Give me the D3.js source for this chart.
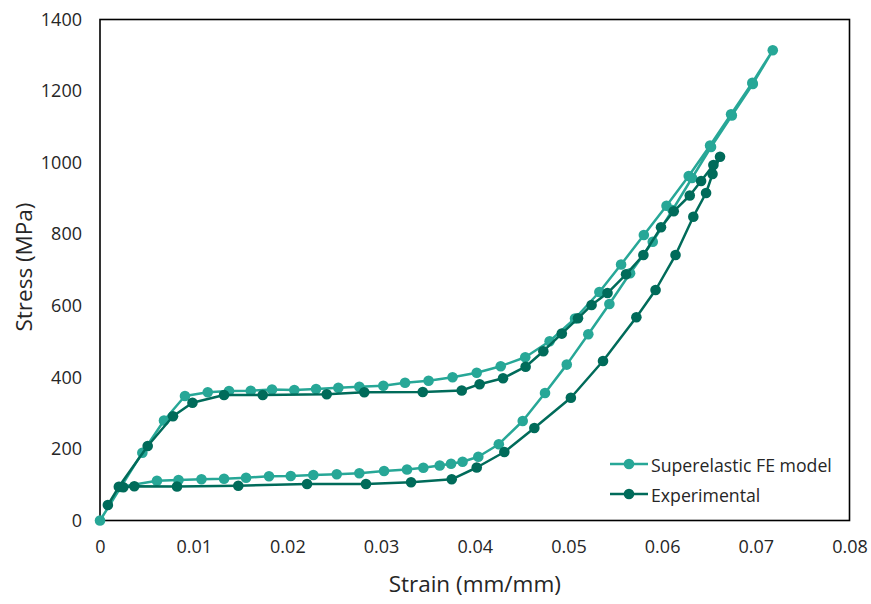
<html>
  <script src='https://d3js.org/d3.v7.min.js'></script>
  <head>
    <title>stress strain loop</title>
    <style>
      body { margin: 0; background: #fff; }
    </style>
  </head>
  <body>
    <svg id="visual" width="871" height="604"></svg>
    <script type="text/javascript">

    // superelastic FE model - loading then unloading
    var feStrain = [0, 0.00452, 0.00683, 0.00907, 0.01150, 0.01377, 0.01609, 0.01836, 0.02074, 0.02306,
                    0.02544, 0.02768, 0.03024, 0.03256, 0.03507, 0.03763, 0.04021, 0.04277, 0.04539, 0.04799,
                    0.05070, 0.05330, 0.05562, 0.05805, 0.06047, 0.06284, 0.06512, 0.06736, 0.06963, 0.07181,
                    0.06968, 0.06744, 0.06522, 0.06319, 0.06111, 0.05900, 0.05658, 0.05437, 0.05212, 0.04982,
                    0.04750, 0.04512, 0.04257, 0.04038, 0.03870, 0.03747, 0.03626, 0.03451, 0.03277, 0.03032,
                    0.02768, 0.02527, 0.02277, 0.02036, 0.01804, 0.01559, 0.01324, 0.01083, 0.00838, 0.00608,
                    0.00213];
    var feStress = [0, 189.5, 279.4, 347.9, 358.2, 361.9, 362.7, 366.1, 364.7, 367.5,
                    371.1, 373.9, 376.7, 385.1, 390.7, 400.2, 413.0, 431.2, 456.3, 501.0,
                    564.5, 638.5, 715.4, 797.8, 879.4, 962.7, 1047.9, 1135.1, 1223.4, 1313.9,
                    1219.8, 1131.7, 1043.7, 957.1, 867.6, 779.1, 690.8, 605.0, 520.6, 435.6,
                    356.3, 278.0, 213.2, 178.3, 164.3, 158.4, 153.7, 147.5, 142.5, 138.3,
                    131.9, 129.1, 127.1, 124.4, 123.8, 119.6, 116.8, 115.4, 113.2, 111.2,
                    93.7];

    // experimental - loading then unloading
    var expStrain = [0.00084, 0.00201, 0.00509, 0.00779, 0.00987, 0.01324, 0.01737, 0.02420, 0.02821, 0.03445,
                     0.03861, 0.04052, 0.04302, 0.04543, 0.04732, 0.04929, 0.05102, 0.05247, 0.05417, 0.05615,
                     0.05800, 0.05988, 0.06124, 0.06295, 0.06416, 0.06547, 0.06618,
                     0.06538, 0.06469, 0.06333, 0.06143, 0.05930, 0.05725, 0.05369, 0.05026, 0.04636, 0.04316,
                     0.04021, 0.03754, 0.03320, 0.02839, 0.02210, 0.01476, 0.00822, 0.00366, 0.00249];
    var expStress = [43.3, 94.2, 208.2, 291.2, 329.2, 350.7, 350.7, 352.6, 358.2, 359.1,
                     363.3, 380.9, 397.4, 429.8, 473.1, 522.3, 565.0, 602.2, 635.7, 688.0,
                     741.9, 819.3, 864.0, 908.2, 948.7, 993.4, 1016.6,
                     968.2, 915.2, 848.9, 741.9, 644.1, 568.1, 445.7, 342.9, 258.5, 191.4,
                     148.1, 115.1, 106.7, 102.0, 102.0, 97.2, 95.0, 95.6, 92.8];

    var seriesNames = ["Superelastic FE model", "Experimental"];
    var seriesColors = ["#27a797", "#006b5a"];
    var xTicks = [0, 0.01, 0.02, 0.03, 0.04, 0.05, 0.06, 0.07, 0.08];
    var xTickLabels = ["0", "0.01", "0.02", "0.03", "0.04", "0.05", "0.06", "0.07", "0.08"];
    var yTicks = [0, 200, 400, 600, 800, 1000, 1200, 1400];

    function draw() {
        var font = "'Open Sans', sans-serif";
        var svg = d3.select("#visual");

        var pLeft = 100, pRight = 849.5, pTop = 19.5, pBottom = 520.5;

        var x = d3.scaleLinear().domain([0, 0.08]).range([pLeft, pRight]);
        var y = d3.scaleLinear().domain([0, 1400]).range([pBottom, pTop]);

        // axes, no tick marks like excel
        var xAxis = svg.append("g")
            .attr("transform", "translate(0," + pBottom + ")")
            .call(d3.axisBottom(x)
                .tickValues(xTicks)
                .tickSize(0)
                .tickPadding(20)
                .tickFormat(function(d, i) { return xTickLabels[i]; }));

        var yAxis = svg.append("g")
            .attr("transform", "translate(" + pLeft + ",0)")
            .call(d3.axisLeft(y)
                .tickValues(yTicks)
                .tickSize(0)
                .tickPadding(18)
                .tickFormat(d3.format("d")));

        [xAxis, yAxis].forEach(function(a) {
            a.select(".domain").remove();
            a.selectAll("text")
                .attr("font-family", font)
                .attr("font-size", "18px")
                .attr("fill", "#262626");
        });

        // plot box
        svg.append("rect")
            .attr("x", pLeft)
            .attr("y", pTop)
            .attr("width", pRight - pLeft)
            .attr("height", pBottom - pTop)
            .attr("fill", "none")
            .attr("stroke", "#000")
            .attr("stroke-width", 1.6);

        var series = [
            { name: seriesNames[0], color: seriesColors[0],
              pts: feStrain.map(function(s, i) { return [s, feStress[i]]; }) },
            { name: seriesNames[1], color: seriesColors[1],
              pts: expStrain.map(function(s, i) { return [s, expStress[i]]; }) }
        ];

        var line = d3.line()
            .x(function(d) { return x(d[0]); })
            .y(function(d) { return y(d[1]); });

        series.forEach(function(s) {
            var g = svg.append("g");
            g.append("path")
                .datum(s.pts)
                .attr("d", line)
                .attr("fill", "none")
                .attr("stroke", s.color)
                .attr("stroke-width", 2.5)
                .attr("stroke-linejoin", "round");
            g.selectAll("circle")
                .data(s.pts)
                .enter()
                .append("circle")
                .attr("cx", function(d) { return x(d[0]); })
                .attr("cy", function(d) { return y(d[1]); })
                .attr("r", 5.3)
                .attr("fill", s.color);
        });

        // legend
        var legend = svg.append("g");
        series.forEach(function(s, i) {
            var ly = 464 + i * 30;
            legend.append("line")
                .attr("x1", 610).attr("x2", 648)
                .attr("y1", ly).attr("y2", ly)
                .attr("stroke", s.color)
                .attr("stroke-width", 2.5);
            legend.append("circle")
                .attr("cx", 629).attr("cy", ly)
                .attr("r", 5.3)
                .attr("fill", s.color);
            legend.append("text")
                .attr("x", 651)
                .attr("y", ly + 7.5)
                .attr("font-family", font)
                .attr("font-size", "17.7px")
                .attr("fill", "#262626")
                .text(s.name);
        });

        // axis titles
        svg.append("text")
            .attr("x", (pLeft + pRight) / 2)
            .attr("y", 591.5)
            .attr("text-anchor", "middle")
            .attr("font-family", font)
            .attr("font-size", "22.5px")
            .attr("fill", "#262626")
            .text("Strain (mm/mm)");

        svg.append("text")
            .attr("transform", "rotate(-90)")
            .attr("x", -267)
            .attr("y", 31.5)
            .attr("text-anchor", "middle")
            .attr("font-family", font)
            .attr("font-size", "22.5px")
            .attr("fill", "#262626")
            .text("Stress (MPa)");
    }

    draw();

    </script>
  </body>
</html>
